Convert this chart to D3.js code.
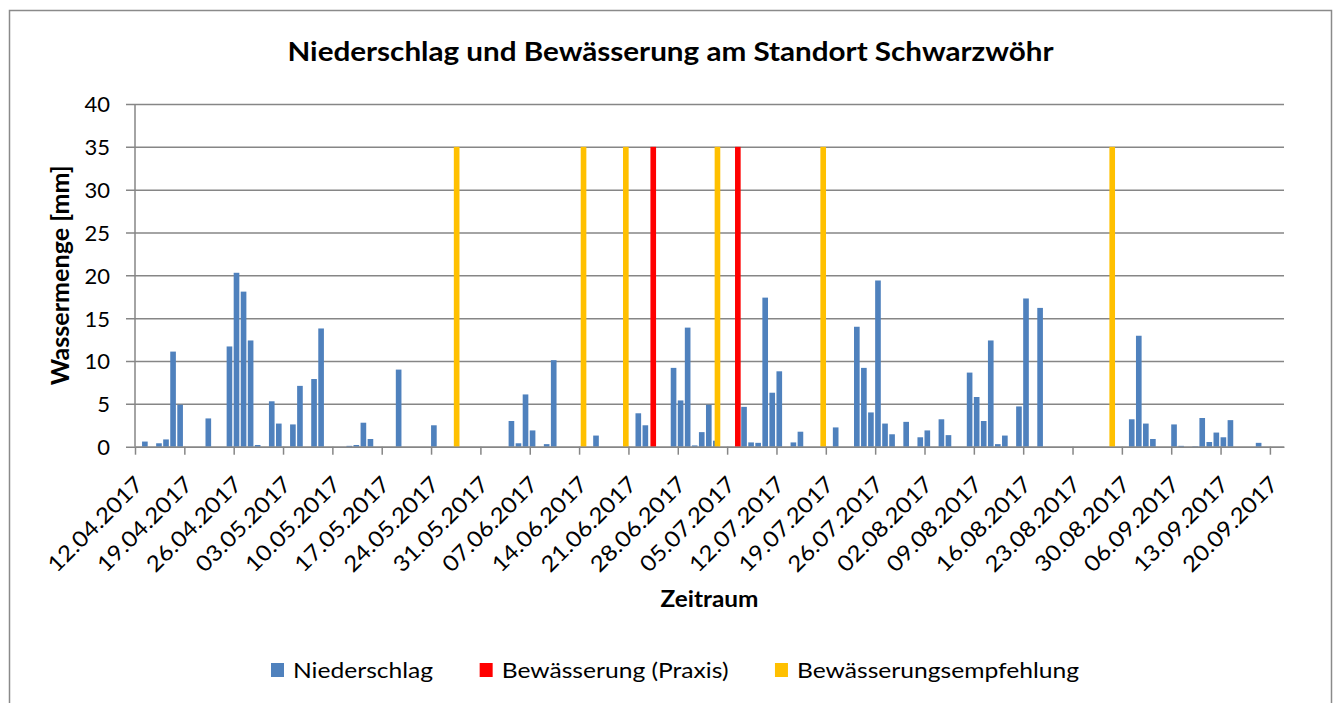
<!DOCTYPE html>
<html>
<head>
<meta charset="utf-8">
<script src="https://cdn.jsdelivr.net/npm/d3@7"></script>
<style>
  body { margin: 0; background: #fff; }
  svg { display: block; font-family: Lato, "Open Sans", sans-serif; }
</style>
</head>
<body>
<svg id="chart" width="1338" height="703"></svg>
<script>
// ---------- data ----------
const title = "Niederschlag und Bewässerung am Standort Schwarzwöhr";
const yTitle = "Wassermenge [mm]";
const xTitle = "Zeitraum";
const seriesNames = ["Niederschlag", "Bewässerung (Praxis)", "Bewässerungsempfehlung"];

const niederschlagDates = [
  "13.04.2017", "15.04.2017", "16.04.2017", "17.04.2017", "18.04.2017", "22.04.2017",
  "25.04.2017", "26.04.2017", "27.04.2017", "28.04.2017", "29.04.2017",
  "01.05.2017", "02.05.2017", "04.05.2017", "05.05.2017", "07.05.2017", "08.05.2017",
  "12.05.2017", "13.05.2017", "14.05.2017", "15.05.2017", "19.05.2017", "24.05.2017",
  "04.06.2017", "05.06.2017", "06.06.2017", "07.06.2017", "09.06.2017", "10.06.2017",
  "16.06.2017", "22.06.2017", "23.06.2017", "27.06.2017", "28.06.2017", "29.06.2017",
  "30.06.2017", "01.07.2017", "02.07.2017", "03.07.2017", "07.07.2017", "08.07.2017",
  "09.07.2017", "10.07.2017", "11.07.2017", "12.07.2017", "14.07.2017", "15.07.2017",
  "20.07.2017", "23.07.2017", "24.07.2017", "25.07.2017", "26.07.2017", "27.07.2017",
  "28.07.2017", "30.07.2017", "01.08.2017", "02.08.2017", "04.08.2017", "05.08.2017",
  "08.08.2017", "09.08.2017", "10.08.2017", "11.08.2017", "12.08.2017", "13.08.2017",
  "15.08.2017", "16.08.2017", "18.08.2017", "31.08.2017", "01.09.2017", "02.09.2017",
  "03.09.2017", "06.09.2017", "07.09.2017", "09.09.2017", "10.09.2017", "11.09.2017",
  "12.09.2017", "13.09.2017", "14.09.2017", "18.09.2017"
];
const niederschlagValues = [
  0.6, 0.4, 0.85, 11.1, 4.9, 3.3,
  11.7, 20.3, 18.1, 12.4, 0.2,
  5.3, 2.7, 2.6, 7.1, 7.9, 13.8,
  0.1, 0.2, 2.8, 0.9, 9.0, 2.5,
  3.0, 0.4, 6.1, 1.9, 0.3, 10.1,
  1.3, 3.9, 2.5, 9.2, 5.4, 13.9,
  0.15, 1.7, 4.9, 0.7, 4.65, 0.5,
  0.45, 17.4, 6.3, 8.8, 0.5, 1.75,
  2.25, 14.0, 9.2, 4.0, 19.4, 2.7,
  1.45, 2.9, 1.1, 1.9, 3.2, 1.35,
  8.65, 5.8, 3.0, 12.4, 0.3, 1.3,
  4.7, 17.3, 16.2, 3.2, 12.95, 2.7,
  0.9, 2.6, 0.1, 0.05, 3.35, 0.55,
  1.65, 1.1, 3.1, 0.45
];

const praxisDates = ["24.06.2017", "06.07.2017"];
const empfehlungDates = ["27.05.2017", "14.06.2017", "20.06.2017", "03.07.2017", "18.07.2017", "28.08.2017"];
const bewaesserungMenge = 35;

const xTickLabels = [
  "12.04.2017", "19.04.2017", "26.04.2017", "03.05.2017", "10.05.2017", "17.05.2017",
  "24.05.2017", "31.05.2017", "07.06.2017", "14.06.2017", "21.06.2017", "28.06.2017",
  "05.07.2017", "12.07.2017", "19.07.2017", "26.07.2017", "02.08.2017", "09.08.2017",
  "16.08.2017", "23.08.2017", "30.08.2017", "06.09.2017", "13.09.2017", "20.09.2017"
];
const yTicks = [0, 5, 10, 15, 20, 25, 30, 35, 40];

// ---------- setup ----------
const parseDate = d3.utcParse("%d.%m.%Y");
const formatDate = d3.utcFormat("%d.%m.%Y");

const svg = d3.select("#chart");
const plot = { left: 135, right: 1284, top: 104, bottom: 446.7 };
const gridColor = "#868686";

const color = d3.scaleOrdinal()
  .domain(seriesNames)
  .range(["#4F81BD", "#FF0000", "#FFC000"]);

// chart frame
svg.append("rect")
  .attr("x", 9.5)
  .attr("y", 10.5)
  .attr("width", 1322)
  .attr("height", 720)
  .attr("fill", "#fff")
  .attr("stroke", "#8a8a8a")
  .attr("stroke-width", 1.5);

const firstDay = parseDate(xTickLabels[0]);
const lastDay = d3.utcDay.offset(parseDate(xTickLabels[xTickLabels.length - 1]), 2);

const x = d3.scaleUtc()
  .domain([firstDay, lastDay])
  .range([plot.left, plot.right]);

const y = d3.scaleLinear()
  .domain([0, d3.max(yTicks)])
  .range([plot.bottom, plot.top]);

const dayWidth = x(d3.utcDay.offset(firstDay, 1)) - x(firstDay);
const barWidth = dayWidth * 0.8;

// ---------- y axis + gridlines ----------
const yAxis = svg.append("g")
  .attr("transform", `translate(${plot.left},0)`)
  .call(d3.axisLeft(y)
    .tickValues(yTicks)
    .tickSize(-(plot.right - plot.left))
    .tickPadding(25));

yAxis.select(".domain").remove();
yAxis.selectAll(".tick line")
  .attr("x1", -9)
  .attr("stroke", gridColor)
  .attr("stroke-width", 1.5);
yAxis.selectAll(".tick text")
  .attr("font-size", 22)
  .attr("font-family", "Lato, sans-serif")
  .attr("fill", "#000")
  .attr("dy", "0.36em");

svg.append("line")
  .attr("x1", plot.left)
  .attr("x2", plot.left)
  .attr("y1", plot.top)
  .attr("y2", plot.bottom)
  .attr("stroke", gridColor)
  .attr("stroke-width", 1.5);

// ---------- bars ----------
const rain = niederschlagDates.map((d, i) => ({ date: parseDate(d), value: niederschlagValues[i] }));

svg.append("g")
  .selectAll("rect")
  .data(rain)
  .join("rect")
  .attr("x", d => x(d.date))
  .attr("y", d => y(d.value))
  .attr("width", barWidth)
  .attr("height", d => y(0) - y(d.value))
  .attr("fill", color(seriesNames[0]));

svg.append("g")
  .selectAll("rect")
  .data(praxisDates.map(parseDate))
  .join("rect")
  .attr("x", d => x(d) + dayWidth * 0.12)
  .attr("y", y(bewaesserungMenge))
  .attr("width", barWidth)
  .attr("height", y(0) - y(bewaesserungMenge))
  .attr("fill", color(seriesNames[1]));

svg.append("g")
  .selectAll("rect")
  .data(empfehlungDates.map(parseDate))
  .join("rect")
  .attr("x", d => x(d) + dayWidth * 0.23)
  .attr("y", y(bewaesserungMenge))
  .attr("width", barWidth)
  .attr("height", y(0) - y(bewaesserungMenge))
  .attr("fill", color(seriesNames[2]));

// ---------- x axis ----------
const xAxis = svg.append("g")
  .attr("transform", `translate(0,${plot.bottom})`)
  .call(d3.axisBottom(x)
    .tickValues(xTickLabels.map(parseDate))
    .tickFormat(formatDate)
    .tickSize(8)
    .tickSizeOuter(0));

xAxis.select(".domain")
  .attr("stroke", gridColor)
  .attr("stroke-width", 1.5);
xAxis.selectAll(".tick line")
  .attr("stroke", gridColor)
  .attr("stroke-width", 1.5);
xAxis.selectAll(".tick text")
  .attr("font-size", 22)
  .attr("font-family", "Lato, sans-serif")
  .attr("fill", "#000")
  .attr("x", 0)
  .attr("y", 0)
  .attr("dy", 0)
  .attr("text-anchor", "end")
  .attr("textLength", 124)
  .attr("lengthAdjust", "spacingAndGlyphs")
  .attr("transform", "translate(9,39) rotate(-45)");

// ---------- titles ----------
svg.append("text")
  .attr("x", 670.5)
  .attr("y", 60.7)
  .attr("text-anchor", "middle")
  .attr("font-size", 26)
  .attr("font-weight", "bold")
  .attr("textLength", 766)
  .attr("lengthAdjust", "spacingAndGlyphs")
  .text(title);

svg.append("text")
  .attr("transform", `translate(68.5,${(plot.top + plot.bottom) / 2}) rotate(-90)`)
  .attr("text-anchor", "middle")
  .attr("font-size", 25)
  .attr("font-weight", "bold")
  .attr("textLength", 220)
  .attr("lengthAdjust", "spacingAndGlyphs")
  .text(yTitle);

svg.append("text")
  .attr("x", (plot.left + plot.right) / 2)
  .attr("y", 607)
  .attr("text-anchor", "middle")
  .attr("font-size", 23)
  .attr("font-weight", "bold")
  .attr("textLength", 98)
  .attr("lengthAdjust", "spacingAndGlyphs")
  .text(xTitle);

// ---------- legend ----------
const legend = svg.append("g");
const items = legend.selectAll("g")
  .data(seriesNames)
  .join("g");

items.append("rect")
  .attr("width", 13)
  .attr("height", 14)
  .attr("y", 663)
  .attr("fill", d => color(d));

const labels = items.append("text")
  .attr("x", 22)
  .attr("y", 678)
  .attr("font-size", 21)
  .text(d => d);

// widen the legend labels together so they fill the reference width
const natural = labels.nodes().map(n => n.getComputedTextLength());
const stretch = 649 / d3.sum(natural);
const labelWidths = natural.map(w => w * stretch);
labels
  .attr("textLength", (d, i) => labelWidths[i])
  .attr("lengthAdjust", "spacingAndGlyphs");

const itemGap = 46.5;
const offsets = [];
let cursor = 0;
labelWidths.forEach(w => {
  offsets.push(cursor);
  cursor += 22 + w + itemGap;
});
const legendStart = 675 - (cursor - itemGap) / 2;
items.attr("transform", (d, i) => `translate(${legendStart + offsets[i]},0)`);
</script>
</body>
</html>
